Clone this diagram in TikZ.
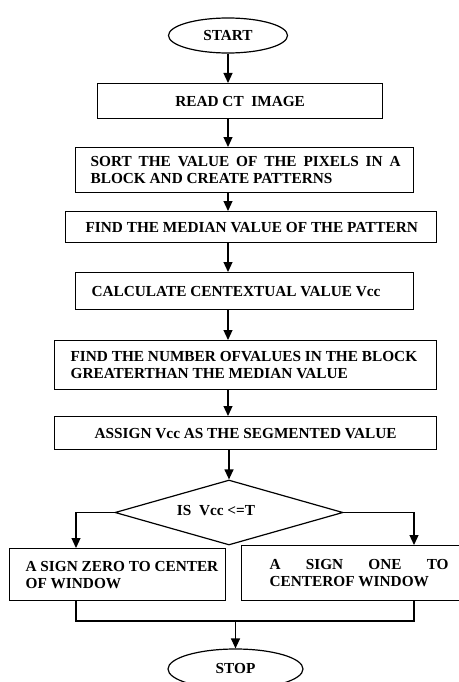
\documentclass[tikz,border=0pt]{standalone}
\usepackage{fontspec}
\setmainfont{Liberation Serif}
\usetikzlibrary{shapes.geometric,arrows.meta}
\begin{document}
\begin{tikzpicture}[x=1pt,y=-1pt, line width=1.2pt,
  box/.style={draw, rectangle, inner sep=0pt, anchor=north west},
  txt/.style={inner sep=0pt, font=\fontsize{15.3}{17}\selectfont\bfseries, align=left},
  term/.style={draw, ellipse, inner sep=0pt, font=\fontsize{15.3}{17}\selectfont\bfseries},
  arr/.style={-{Triangle[length=10pt,width=9pt]}}]
\useasboundingbox (0,0) rectangle (458,682);
\coordinate (ax) at (228,0);
\coordinate (lx) at (76,0);
\coordinate (rx) at (414,0);
\coordinate (mj) at (0,621);
% terminals
\node[term, minimum width=119pt, minimum height=35pt] (start) at (228,35.5) {START};
\node[term, minimum width=135pt, minimum height=40pt] (stop) at (235.5,669) {STOP};
% boxes
\node[box, minimum width=285pt, minimum height=35pt] (read) at (97,83) {};
\node[txt] (readT) at (read.center) {READ CT\ \ IMAGE};
\node[box, minimum width=338pt, minimum height=45pt] (sort) at (75,147) {};
\node[txt, anchor=west] (sortT) at ([xshift=15pt]sort.west) {\makebox[310pt][s]{SORT THE VALUE OF THE PIXELS IN A}\\BLOCK AND CREATE PATTERNS};
\node[box, minimum width=371pt, minimum height=31pt] (median) at (65,211) {};
\node[txt, anchor=west] (medianT) at ([xshift=20pt]median.west) {FIND THE MEDIAN VALUE OF THE PATTERN};
\node[box, minimum width=338pt, minimum height=37pt] (calc) at (75,272) {};
\node[txt, anchor=west] (calcT) at ([xshift=16pt]calc.west) {CALCULATE CENTEXTUAL VALUE Vcc};
\node[box, minimum width=382pt, minimum height=49pt] (number) at (54,340) {};
\node[txt, anchor=west] (numberT) at ([xshift=16pt]number.west) {FIND THE NUMBER OFVALUES IN THE BLOCK\\GREATERTHAN THE MEDIAN VALUE};
\node[box, minimum width=382pt, minimum height=33pt] (assign) at (54,416) {};
\node[txt] (assignT) at (assign.center) {ASSIGN Vcc AS THE SEGMENTED VALUE};
% decision
\node[draw, diamond, aspect=3.5, inner sep=0pt, minimum width=228pt, minimum height=65pt] (dec) at (229,512.5) {};
\node[txt] (decT) at (216,511) {IS\ \ Vcc <=T};
% branches
\node[box, minimum width=216pt, minimum height=52pt] (zero) at (9,548) {};
\node[txt, anchor=west] (zeroT) at ([xshift=16pt]zero.west) {A SIGN ZERO TO CENTER\\OF WINDOW};
\node[box, minimum width=222pt, minimum height=55pt] (one) at (241,545) {};
\node[txt, anchor=west] (oneT) at ([xshift=28pt]one.west) {\makebox[179pt][s]{A SIGN ONE TO}\\CENTEROF WINDOW};
% connectors
\draw[arr] (start.south) -- (start.south |- read.north);
\draw[arr] (read.south -| ax) -- (sort.north -| ax);
\draw[arr] (sort.south -| ax) -- (median.north -| ax);
\draw[arr] (median.south -| ax) -- (calc.north -| ax);
\draw[arr] (calc.south -| ax) -- (number.north -| ax);
\draw[arr] (number.south -| ax) -- (assign.north -| ax);
\draw[arr] (assign.south -| dec.north) -- (dec.north);
\draw[arr] (dec.west) -| (zero.north -| lx);
\draw[arr] (dec.east) -| (one.north -| rx);
\draw (zero.south -| lx) -- (lx |- mj) -- (rx |- mj) -- (one.south -| rx);
\draw[arr] (stop.north |- mj) -- (stop.north);
\end{tikzpicture}
\end{document}
